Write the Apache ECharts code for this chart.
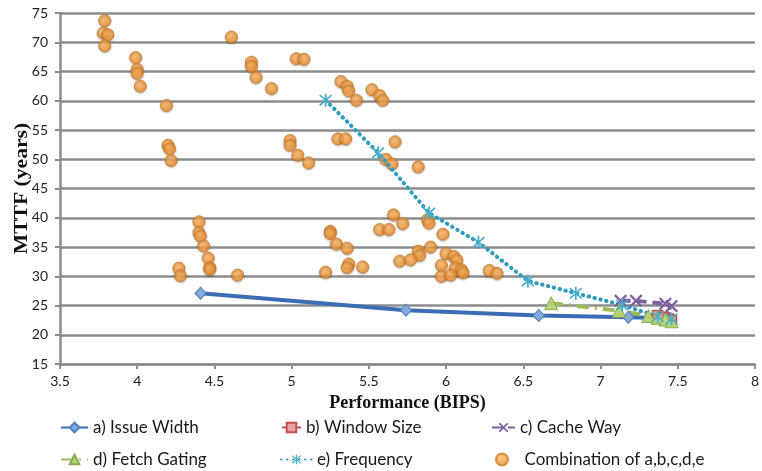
<!DOCTYPE html>
<html>
<head>
<meta charset="utf-8">
<script src="https://cdn.jsdelivr.net/npm/echarts@6/dist/echarts.min.js"></script>
<style>
  html, body { margin: 0; padding: 0; background: #fff; }
  #chart { width: 762px; height: 471px; }
</style>
</head>
<body>
<div id="chart"></div>
<script>
// Performance (BIPS) vs. MTTF (years) for each tuning knob
const issueWidth = [[4.41, 27.1], [5.74, 24.2], [6.60, 23.3], [7.18, 23.0], [7.45, 22.8]];
const windowSize = [[7.37, 23.3], [7.41, 23.0], [7.44, 22.7], [7.46, 22.5]];
const cacheWay = [[7.13, 25.8], [7.23, 25.8], [7.42, 25.3], [7.46, 24.9]];
const fetchGating = [[6.68, 25.4], [7.12, 24.1], [7.31, 23.2], [7.37, 22.9], [7.42, 22.6], [7.46, 22.3]];
const frequency = [[5.22, 60.1], [5.56, 51.1], [5.89, 40.8], [6.21, 35.8], [6.53, 29.2],
                   [6.84, 27.1], [7.14, 25.1], [7.37, 23.1], [7.46, 22.7]];
const combination = [
  [3.79, 73.7], [3.78, 71.6], [3.81, 71.3], [3.79, 69.4], [3.99, 67.4], [4.00, 65.4],
  [4.00, 64.7], [4.02, 62.5], [4.19, 59.2], [4.20, 52.4], [4.21, 51.8], [4.22, 49.8],
  [4.61, 70.9], [4.74, 66.6], [4.74, 65.9], [4.77, 64.0], [4.87, 62.1], [5.03, 67.2],
  [5.08, 67.1], [5.32, 63.3], [5.36, 62.5], [5.37, 61.7], [5.42, 60.1], [5.52, 61.9],
  [5.57, 60.9], [5.59, 60.1], [4.99, 53.2], [4.99, 52.4], [5.04, 50.7], [5.11, 49.4],
  [5.30, 53.5], [5.35, 53.5], [5.67, 53.0], [5.61, 50.0], [5.65, 49.2], [5.82, 48.7],
  [4.40, 39.3], [4.40, 37.5], [4.41, 36.9], [4.43, 35.2], [4.46, 33.1], [4.47, 31.5],
  [4.47, 31.2], [4.27, 31.4], [4.28, 30.1], [4.65, 30.2], [5.25, 37.7], [5.25, 37.3],
  [5.29, 35.5], [5.36, 34.8], [5.22, 30.7], [5.37, 32.1], [5.36, 31.5], [5.46, 31.6],
  [5.66, 40.5], [5.72, 39.0], [5.57, 38.0], [5.63, 38.0], [5.88, 39.7], [5.89, 39.1],
  [5.98, 37.2], [5.90, 35.0], [5.82, 34.3], [5.83, 33.6], [5.70, 32.6], [5.77, 32.8],
  [6.00, 33.9], [6.05, 33.4], [6.07, 32.8], [5.97, 31.9], [6.06, 31.4], [6.10, 31.1],
  [6.11, 30.6], [5.97, 30.0], [6.03, 30.2], [6.28, 31.0], [6.33, 30.5]
];
const seriesNames = ['a) Issue Width', 'b) Window Size', 'c) Cache Way',
                     'd) Fetch Gating', 'e) Frequency', 'Combination of a,b,c,d,e'];
const xTitle = 'Performance (BIPS)';
const yTitle = 'MTTF (years)';

const X_SYMBOL = 'path://M0,1.2L1.2,0L5,3.8L8.8,0L10,1.2L6.2,5L10,8.8L8.8,10L5,6.2L1.2,10L0,8.8L3.8,5Z';
const STAR_SYMBOL = 'path://M4.4,0H5.6V10H4.4Z M0.6,1.4L1.4,0.6L9.4,8.6L8.6,9.4Z M8.6,0.6L9.4,1.4L1.4,9.4L0.6,8.6Z';

const chart = echarts.init(document.getElementById('chart'), null, { renderer: 'canvas' });

// legend slots: two rows of three keys under the plot (legend padding is 5px)
const legendSlots = [
  { left: 55, top: 414, w: 27 }, { left: 276, top: 414, w: 19 }, { left: 486, top: 414, w: 23 },
  { left: 55, top: 446, w: 27 }, { left: 275, top: 446, w: 31 }, { left: 490, top: 446, w: 35 }
];

const GRID = { left: 60, right: 3, top: 13, bottom: 107 };

chart.setOption({
  animation: false,
  backgroundColor: '#ffffff',
  grid: GRID,
  legend: legendSlots.map((p, i) => ({
    data: [seriesNames[i]],
    left: p.left, top: p.top,
    itemWidth: p.w, itemHeight: 12, itemGap: 4,
    textStyle: { fontFamily: 'Lato', fontSize: 17, color: '#1a1a1a' }
  })),
  graphic: [{
    type: 'text',
    x: 22, y: GRID.top + (471 - GRID.top - GRID.bottom) / 2,
    rotation: Math.PI / 2,
    scaleX: 1.2,
    style: {
      text: yTitle,
      font: 'bold 18px "Liberation Serif"',
      fill: '#111',
      align: 'center',
      verticalAlign: 'middle'
    }
  }],
  xAxis: {
    type: 'value', min: 3.5, max: 8, interval: 0.5,
    name: xTitle, nameLocation: 'middle', nameGap: 30,
    nameTextStyle: { fontFamily: 'Liberation Serif', fontWeight: 'bold', fontSize: 18, color: '#111' },
    axisLine: { show: true, lineStyle: { color: '#8c8c8c', width: 2.5 } },
    axisTick: { show: true, length: 5, lineStyle: { color: '#8c8c8c', width: 2 } },
    axisLabel: { fontFamily: 'Lato', fontSize: 14, color: '#222', margin: 10 },
    splitLine: { show: false }
  },
  yAxis: {
    type: 'value', min: 15, max: 75, interval: 5,
    axisLine: { show: true, lineStyle: { color: '#8c8c8c', width: 2.5 } },
    axisTick: { show: true, length: 5, lineStyle: { color: '#8c8c8c', width: 2 } },
    axisLabel: { fontFamily: 'Lato', fontSize: 14, color: '#222', margin: 12 },
    splitLine: { show: true, lineStyle: { color: '#8c8c8c', width: 2.5 } }
  },
  series: [
    {
      name: seriesNames[0], type: 'line', data: issueWidth,
      symbol: 'diamond', symbolSize: [11, 12],
      lineStyle: { color: '#3a6db3', width: 4 },
      itemStyle: { color: '#82aadc', borderColor: '#4f7fbf', borderWidth: 1 }
    },
    {
      name: seriesNames[1], type: 'line', data: windowSize,
      symbol: 'rect', symbolSize: 10,
      lineStyle: { color: '#c0504d', width: 4 },
      itemStyle: { color: '#e8a3a0', borderColor: '#c0504d', borderWidth: 1.5 }
    },
    {
      name: seriesNames[2], type: 'line', data: cacheWay,
      symbol: X_SYMBOL, symbolSize: 13,
      lineStyle: { color: '#7d5fa0', width: 4, type: [10, 6] },
      itemStyle: { color: '#7d5fa0' }
    },
    {
      name: seriesNames[3], type: 'line', data: fetchGating,
      symbol: 'triangle', symbolSize: 13,
      lineStyle: { color: '#9bbb59', width: 4, type: [12, 6, 2, 6] },
      itemStyle: { color: '#b7d27c', borderColor: '#8aab48', borderWidth: 1 }
    },
    {
      name: seriesNames[4], type: 'line', data: frequency,
      symbol: STAR_SYMBOL, symbolSize: 13,
      lineStyle: { color: '#2f9bbd', width: 4, type: [0.5, 5.5], cap: 'round' },
      itemStyle: { color: '#4aaecb' }
    },
    {
      name: seriesNames[5], type: 'scatter', data: combination,
      symbol: 'circle', symbolSize: 12,
      itemStyle: {
        color: {
          type: 'radial', x: 0.42, y: 0.38, r: 0.65,
          colorStops: [
            { offset: 0, color: '#fbb86c' },
            { offset: 0.6, color: '#f59d3e' },
            { offset: 1, color: '#e8892c' }
          ]
        },
        borderColor: '#d27a26', borderWidth: 1,
        shadowBlur: 2, shadowColor: 'rgba(0,0,0,0.3)', shadowOffsetY: 1
      }
    }
  ]
});
</script>
</body>
</html>
